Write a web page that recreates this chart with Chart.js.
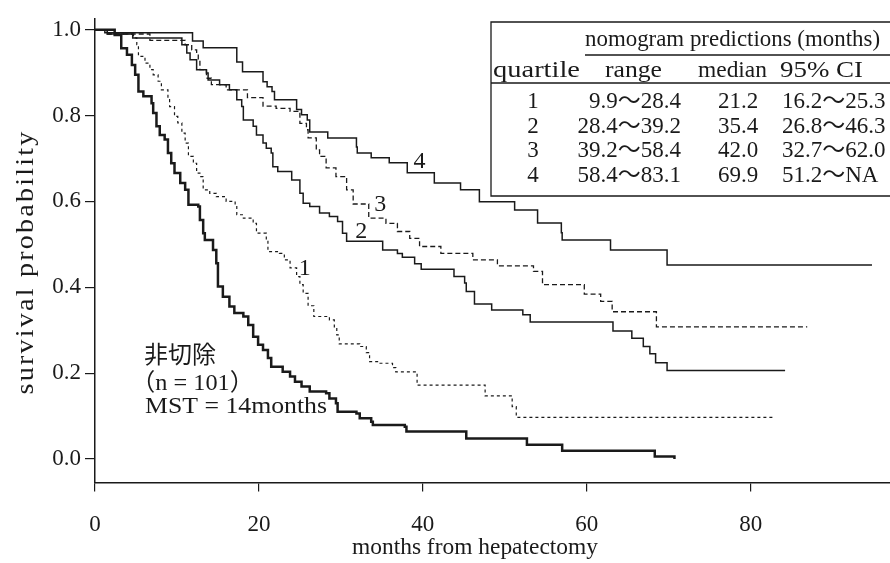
<!DOCTYPE html>
<html><head><meta charset="utf-8">
<script src="https://cdn.jsdelivr.net/npm/chart.js@4.4.1/dist/chart.umd.min.js"></script>
<style>html,body{margin:0;padding:0;background:#fff;}canvas{display:block;}</style>
</head><body>
<canvas id="c" width="890" height="563"></canvas>
<script>
// ---- tick labels ----
const xTicks = [0, 20, 40, 60, 80];
const yTicks = [0, 0.2, 0.4, 0.6, 0.8, 1.0];

// ---- Kaplan-Meier step data (months, survival) ----
const nonResMonths = [0,2.4,3.2,3.9,4.5,4.9,5.3,5.9,6.9,7.1,7.5,7.9,8.5,8.9,9.3,9.7,10.4,11.0,11.4,12.6,12.8,13.2,13.4,14.4,14.8,15.0,15.6,16.4,17.0,18.1,18.7,19.3,19.9,20.5,21.1,21.5,22.9,23.8,24.4,25.2,26.2,28.2,28.6,29.4,29.6,31.9,32.3,33.7,33.9,37.8,38.0,45.3,52.7,57.0,68.3,70.7];
const nonResSurv   = [1.0,0.988,0.957,0.942,0.918,0.895,0.856,0.845,0.829,0.806,0.775,0.755,0.744,0.713,0.689,0.666,0.643,0.627,0.592,0.588,0.557,0.526,0.510,0.487,0.456,0.402,0.378,0.355,0.340,0.332,0.312,0.285,0.266,0.254,0.235,0.215,0.203,0.192,0.180,0.169,0.157,0.153,0.141,0.130,0.110,0.106,0.095,0.087,0.079,0.075,0.064,0.048,0.033,0.019,0.006,0.0];

const q1Months = [0,1.5,4.7,5.1,5.3,6.1,6.7,7.1,7.7,8.1,8.9,9.1,9.7,10.1,10.6,11.0,11.4,12.0,12.4,12.8,13.2,14.0,14.8,16.0,17.1,17.3,18.1,19.3,19.7,20.9,21.1,22.5,23.1,23.8,24.6,25.0,25.4,26.0,26.7,28.6,29.2,29.5,29.8,32.3,33.1,33.5,34.7,36.3,36.7,39.3,47.6,50.9,51.4,82.9];
const q1Surv   = [1.0,0.99,0.981,0.965,0.938,0.922,0.907,0.895,0.880,0.860,0.837,0.821,0.798,0.783,0.759,0.736,0.705,0.689,0.666,0.658,0.627,0.619,0.611,0.600,0.592,0.569,0.561,0.549,0.526,0.507,0.483,0.479,0.464,0.445,0.425,0.406,0.386,0.357,0.332,0.324,0.308,0.289,0.268,0.262,0.248,0.227,0.223,0.213,0.203,0.172,0.147,0.122,0.097,0.097];

const q2Months = [0,1.5,4.6,10.6,11.2,11.6,12.4,13.6,13.8,15.2,16.4,17.3,17.9,18.1,19.3,19.7,20.5,20.9,21.5,21.7,22.3,24.0,25.0,25.4,26.2,27.4,28.6,29.6,30.2,30.7,35.1,36.9,37.5,39.0,39.8,43.8,45.1,45.3,46.3,48.4,52.2,53.1,63.2,65.5,66.9,67.7,68.4,69.8,84.2];
const q2Surv   = [1.0,0.99,0.981,0.965,0.946,0.930,0.907,0.899,0.883,0.872,0.860,0.837,0.821,0.790,0.775,0.755,0.736,0.724,0.713,0.681,0.670,0.650,0.619,0.596,0.588,0.573,0.565,0.553,0.526,0.507,0.487,0.479,0.470,0.455,0.442,0.425,0.410,0.390,0.361,0.347,0.336,0.319,0.298,0.281,0.262,0.245,0.224,0.206,0.206];

const q3Months = [0,1.5,6.7,11.0,11.8,12.4,12.6,12.8,13.6,14.2,16.0,18.6,20.5,22.1,23.8,25.0,25.8,26.0,27.0,27.4,28.2,29.4,30.7,31.5,33.4,35.5,36.9,38.4,39.6,42.2,46.1,49.1,53.5,54.6,59.7,61.7,63.1,68.5,86.9];
const q3Surv   = [1.0,0.99,0.975,0.965,0.953,0.945,0.926,0.907,0.887,0.872,0.860,0.842,0.822,0.817,0.810,0.782,0.767,0.748,0.720,0.705,0.678,0.658,0.627,0.594,0.561,0.549,0.530,0.514,0.495,0.479,0.464,0.450,0.437,0.406,0.384,0.367,0.343,0.308,0.308];

const q4Months = [0,1.2,11.9,13.2,17.3,18.0,20.5,21.0,21.6,21.9,24.6,25.2,25.9,26.2,28.4,31.9,32.0,33.7,35.9,38.1,41.4,44.6,46.9,51.2,54.0,56.9,57.0,62.9,69.8,94.8];
const q4Surv   = [1.0,0.993,0.974,0.958,0.925,0.902,0.879,0.867,0.856,0.837,0.814,0.802,0.790,0.762,0.748,0.727,0.713,0.702,0.690,0.667,0.643,0.627,0.599,0.580,0.550,0.527,0.510,0.487,0.452,0.452];

// ---- inset table ----
const tableQuartiles = ['1', '2', '3', '4'];
const tableRanges    = ['9.9〜28.4', '28.4〜39.2', '39.2〜58.4', '58.4〜83.1'];
const tableMedians   = ['21.2', '35.4', '42.0', '69.9'];
const tableCIs       = ['16.2〜25.3', '26.8〜46.3', '32.7〜62.0', '51.2〜NA'];

// ---- curve labels (anchored in data coordinates) ----
const curveLabelText = ['1', '2', '3', '4'];
const curveLabelAt = [[25.6, 0.443], [32.5, 0.529], [34.8, 0.592], [39.6, 0.692]];

const SERIF = "'Liberation Serif', 'Noto Sans CJK JP', serif";
const INK = '#1a1a1a';

function pts(xs, ys) { return xs.map((x, i) => ({x: x, y: ys[i]})); }

// draw text stretched horizontally to a given width (left / center / right anchored)
function fitText(ctx, text, x, y, w, align) {
  const m = ctx.measureText(text).width;
  const s = w / m;
  ctx.save();
  ctx.translate(x, y);
  ctx.scale(s, 1);
  ctx.textAlign = align;
  ctx.fillText(text, 0, 0);
  ctx.restore();
}

const overlay = {
  id: 'overlay',
  afterDraw(chart) {
    const ctx = chart.ctx, xs = chart.scales.x, ys = chart.scales.y;
    ctx.save();
    ctx.fillStyle = INK; ctx.strokeStyle = INK;
    ctx.textBaseline = 'middle';
    // curve labels
    ctx.font = '24px ' + SERIF; ctx.textAlign = 'center';
    curveLabelText.forEach((t, i) => {
      ctx.fillText(t, xs.getPixelForValue(curveLabelAt[i][0]), ys.getPixelForValue(curveLabelAt[i][1]));
    });
    // axis titles
    ctx.font = '23px ' + SERIF;
    fitText(ctx, 'months from hepatectomy', 475, 548, 246, 'center');
    ctx.save();
    ctx.translate(26, 262); ctx.rotate(-Math.PI / 2);
    ctx.font = '25px ' + SERIF;
    if ('letterSpacing' in ctx) ctx.letterSpacing = '2px';
    fitText(ctx, 'survival probability', 0, 0, 265, 'center');
    if ('letterSpacing' in ctx) ctx.letterSpacing = '0px';
    ctx.restore();
    // annotation
    ctx.font = '24px ' + SERIF;
    ctx.textAlign = 'left';
    ctx.fillText('非切除', 144, 357);
    fitText(ctx, '（n = 101）', 131, 384, 123, 'left');
    fitText(ctx, 'MST = 14months', 145, 407, 182, 'left');
    // table
    ctx.lineWidth = 1.3;
    ctx.beginPath();
    ctx.moveTo(890, 22); ctx.lineTo(491, 22); ctx.lineTo(491, 196); ctx.lineTo(890, 196);
    ctx.moveTo(491, 83); ctx.lineTo(890, 83);
    ctx.moveTo(585, 55); ctx.lineTo(890, 55);
    ctx.stroke();
    ctx.font = '23px ' + SERIF;
    fitText(ctx, 'nomogram predictions (months)', 585, 40, 295, 'left');
    fitText(ctx, 'quartile', 536.5, 71, 87, 'center');
    fitText(ctx, 'range', 633.5, 71, 57, 'center');
    fitText(ctx, 'median', 732.5, 71, 69, 'center');
    fitText(ctx, '95% CI', 821.5, 71, 83, 'center');
    const rowY = [102, 126.5, 151, 175.5];
    ctx.font = '23px ' + SERIF;
    tableQuartiles.forEach((q, i) => {
      ctx.textAlign = 'center'; ctx.fillText(q, 533, rowY[i]);
      ctx.textAlign = 'right'; ctx.fillText(tableRanges[i], 681, rowY[i]);
      ctx.textAlign = 'center'; ctx.fillText(tableMedians[i], 738, rowY[i]);
      ctx.textAlign = 'left'; ctx.fillText(tableCIs[i], 782, rowY[i]);
    });
    ctx.restore();
  }
};

function ds(xs, ys, w, dash) {
  return { data: pts(xs, ys), borderColor: INK, borderWidth: w, borderDash: dash,
           stepped: true, pointRadius: 0, fill: false, tension: 0 };
}

new Chart(document.getElementById('c'), {
  type: 'line',
  data: { datasets: [
    ds(nonResMonths, nonResSurv, 2.5, []),
    ds(q1Months, q1Surv, 1.2, [3, 3]),
    ds(q2Months, q2Surv, 1.5, []),
    ds(q3Months, q3Surv, 1.3, [5, 3]),
    ds(q4Months, q4Surv, 1.5, [])
  ]},
  options: {
    responsive: false, animation: false,
    layout: { padding: { top: 19, right: 0, bottom: 0, left: 0 } },
    plugins: { legend: { display: false }, tooltip: { enabled: false } },
    scales: {
      x: {
        type: 'linear', min: 0, max: 97,
        afterBuildTicks: s => { s.ticks = xTicks.map(v => ({ value: v })); },
        afterFit: s => { s.height = 80.4; },
        grid: { drawOnChartArea: false, drawTicks: true, tickLength: 9, color: INK, lineWidth: 1.2 },
        border: { display: true, color: INK, width: 1.5 },
        ticks: { font: { family: SERIF, size: 23 }, color: INK, padding: 20, maxRotation: 0, autoSkip: false,
                 callback: v => String(v) }
      },
      y: {
        type: 'linear', min: -0.055, max: 1.025,
        afterBuildTicks: s => { s.ticks = yTicks.map(v => ({ value: v })); },
        afterFit: s => { s.width = 95; },
        grid: { drawOnChartArea: false, drawTicks: true, tickLength: 10, color: INK, lineWidth: 1.2 },
        border: { display: true, color: INK, width: 1.5 },
        ticks: { font: { family: SERIF, size: 23 }, color: INK, padding: 4, autoSkip: false,
                 callback: v => Number(v).toFixed(1) }
      }
    }
  },
  plugins: [overlay]
});
</script>
</body></html>
